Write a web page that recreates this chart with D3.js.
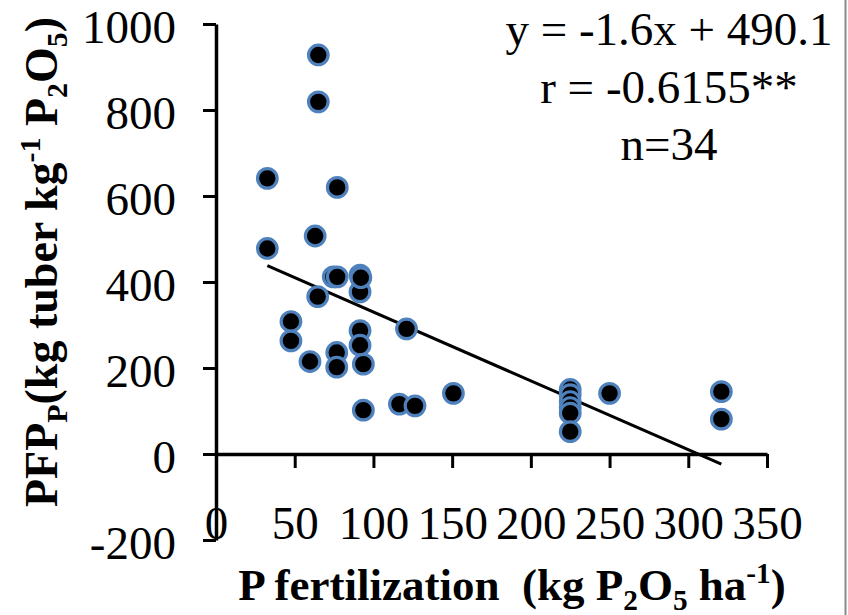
<!DOCTYPE html>
<html><head><meta charset="utf-8">
<script src="https://cdn.jsdelivr.net/npm/d3@7"></script>
<style>body{margin:0;background:#fff} svg text{font-family:"Liberation Serif","Times New Roman",Times,"DejaVu Serif",serif;}</style>
</head><body>
<svg id="chart" width="848" height="615"></svg>
<script>
// P fertilization (kg P2O5 ha-1)
const pRate = [32.6, 32.6, 65, 65, 63, 77, 74.5, 77, 91.5, 91.5, 64.6, 47.6, 47.6, 59.7, 76.7, 76.7,
  91.5, 91.5, 93.6, 93.6, 121, 116.5, 126.4, 150.8, 225, 225, 225, 225, 225, 225, 250, 321, 321, 92];
// PFPp (kg tuber kg-1 P2O5)
const pfp = [641, 478, 928, 819, 507, 620, 412, 412, 416, 377, 366, 308, 263, 215, 236, 202,
  287, 253, 209, 102, 291, 116, 112, 141, 150, 138, 122, 108, 95, 52, 141, 145, 81, 410];
const xTicks = [0, 50, 100, 150, 200, 250, 300, 350];
const yTicks = [-200, 0, 200, 400, 600, 800, 1000];
const slope = -1.6, intercept = 490.1;
const statLines = ["y = -1.6x + 490.1", "r = -0.6155**", "n=34"];

const svg = d3.select("#chart");
const x = d3.scaleLinear().domain([0, 350]).range([216, 767]);
const y = d3.scaleLinear().domain([-200, 1000]).range([540, 24]);

// right frame border
svg.append("line").attr("x1", 845.5).attr("x2", 845.5).attr("y1", 0).attr("y2", 615)
  .attr("stroke", "#8a8a8a").attr("stroke-width", 2);

// Y axis
const gy = svg.append("g").attr("transform", `translate(${x(0)},0)`)
  .call(d3.axisLeft(y).tickValues(yTicks).tickSize(13).tickSizeOuter(0).tickPadding(27).tickFormat(d => String(d)));
gy.attr("font-family", null);
gy.select(".domain").attr("stroke", "#000").attr("stroke-width", 3.5);
gy.selectAll(".tick line").attr("stroke", "#000").attr("stroke-width", 3);
gy.selectAll(".tick text").attr("font-size", 47).attr("fill", "#000").attr("dy", "0.4em");

// X axis at y=0
const gx = svg.append("g").attr("transform", `translate(0,${y(0)})`)
  .call(d3.axisBottom(x).tickValues(xTicks).tickSize(14).tickSizeOuter(0).tickFormat(d => String(d)));
gx.attr("font-family", null);
gx.select(".domain").attr("stroke", "#000").attr("stroke-width", 3.5);
gx.selectAll(".tick line").attr("stroke", "#000").attr("stroke-width", 3);
gx.selectAll(".tick text").attr("font-size", 47).attr("fill", "#000").attr("y", 85).attr("dy", 0);

// regression line
const xr = d3.extent(pRate);
svg.append("line")
  .attr("x1", x(xr[0])).attr("y1", y(slope * xr[0] + intercept))
  .attr("x2", x(xr[1])).attr("y2", y(slope * xr[1] + intercept))
  .attr("stroke", "#000").attr("stroke-width", 3);

// points
svg.append("g").selectAll("circle").data(pRate.map((v, i) => [v, pfp[i]])).join("circle")
  .attr("cx", d => x(d[0])).attr("cy", d => y(d[1])).attr("r", 9.8)
  .attr("fill", "#000").attr("stroke", "#4F81BD").attr("stroke-width", 3.2);

// stats text
svg.append("g").selectAll("text").data(statLines).join("text")
  .attr("x", 669).attr("y", (d, i) => 45 + i * 57.5)
  .attr("text-anchor", "middle").attr("font-size", 47).attr("fill", "#000")
  .text(d => d);

// rich text with sub/superscripts
function rich(t, parts, size) {
  let cur = 0;
  parts.forEach(p => {
    const target = p[1] === "sub" ? size * 0.22 : p[1] === "sup" ? -size * 0.38 : 0;
    const s = t.append("tspan").text(p[0]).attr("dy", target - cur);
    if (p[1]) s.attr("font-size", size * 0.65);
    cur = target;
  });
}

// Y title
const yt = svg.append("text").attr("transform", "translate(57,262) rotate(-90)")
  .attr("text-anchor", "middle").attr("font-weight", "bold")
  .attr("font-size", 46).attr("fill", "#000");
rich(yt, [["PFP"], ["P", "sub"], ["(kg tuber kg"], ["-1", "sup"], [" P"], ["2", "sub"], ["O"], ["5", "sub"], [")"]], 46);

// X title
const xt = svg.append("text").attr("x", 512).attr("y", 600)
  .attr("text-anchor", "middle").attr("font-weight", "bold")
  .attr("font-size", 45).attr("fill", "#000");
rich(xt, [["P fertilization\u00A0\u00A0(kg P"], ["2", "sub"], ["O"], ["5", "sub"], [" ha"], ["-1", "sup"], [")"]], 45);
</script>
</body></html>
